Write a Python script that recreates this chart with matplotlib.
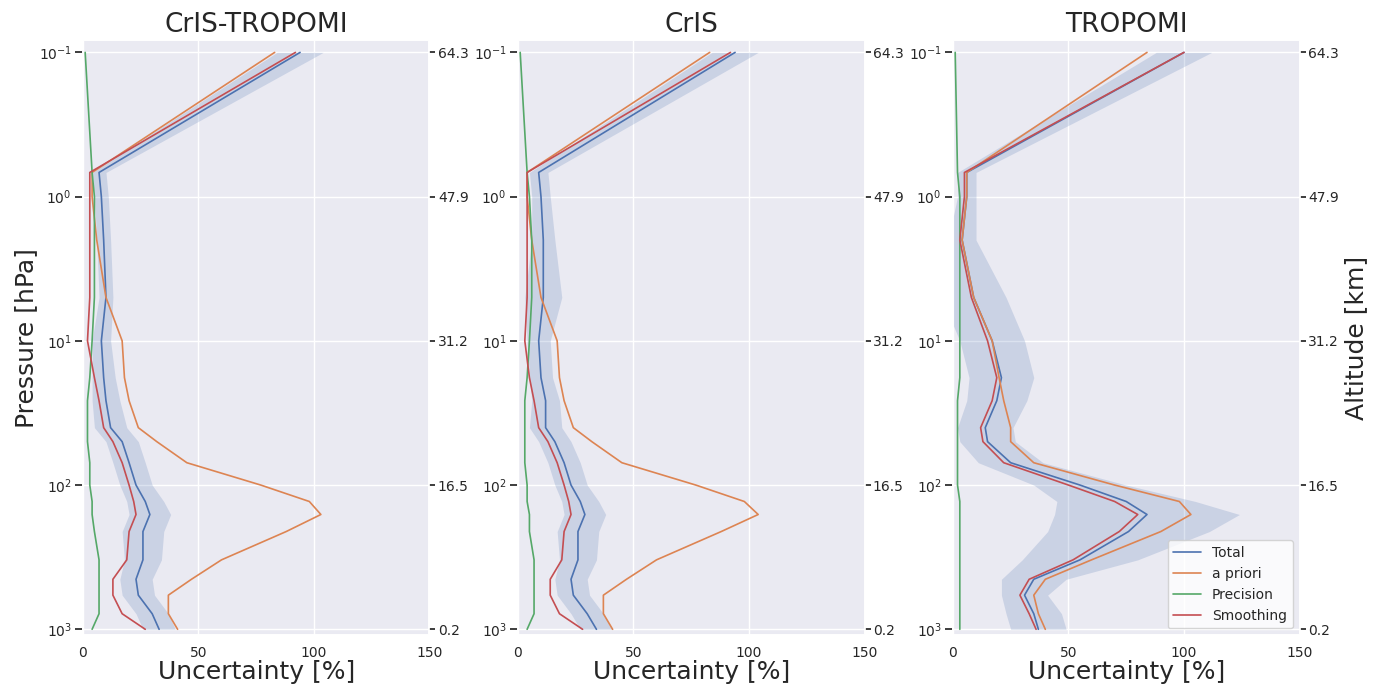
import numpy as np
import matplotlib
matplotlib.use("Agg")
import seaborn as sns
from matplotlib import pyplot as plt

sns.set_theme(style="darkgrid")

# pressure levels [hPa]
p = [0.1, 0.68, 1, 2, 5, 10, 18, 26, 40, 50, 70, 100, 130, 160, 210, 330, 450, 580, 780, 1000]
alt_ticks = [0.1, 1, 10, 100, 1000]
alt_labels = ["64.3", "47.9", "31.2", "16.5", "0.2"]

titles = ["CrIS-TROPOMI", "CrIS", "TROPOMI"]

total = [
    [94, 7, 8, 9, 10, 8, 9, 10, 12, 17, 20, 23, 27, 29, 26, 26, 23, 24, 30, 33],
    [94, 9, 10, 11, 11, 9, 10, 12, 12, 16, 20, 23, 27, 29, 26, 26, 23, 24, 30, 34],
    [100, 6, 6, 4, 9, 17, 21, 19, 14, 15, 25, 55, 75, 84, 76, 55, 35, 31, 35, 37],
]
band = [
    [10, 3, 3, 3, 3, 4, 5, 6, 7, 7, 7, 7, 8, 9, 9, 8, 7, 7, 7, 7],
    [10, 4, 4, 5, 8, 5, 5, 6, 7, 7, 7, 7, 8, 9, 9, 8, 7, 7, 7, 7],
    [12, 4, 4, 6, 14, 14, 14, 13, 12, 12, 14, 20, 30, 40, 35, 25, 14, 10, 12, 12],
]
apriori = [
    [83, 4, 4, 6, 10, 17, 18, 20, 24, 32, 45, 77, 98, 103, 88, 60, 47, 37, 37, 41],
    [83, 4, 4, 6, 10, 17, 18, 20, 24, 32, 45, 77, 98, 104, 88, 60, 47, 37, 37, 41],
    [84, 6, 6, 4, 9, 17, 20, 22, 25, 25, 35, 70, 98, 103, 90, 60, 40, 35, 37, 40],
]
precision = [
    [1, 4, 5, 5, 5, 4, 3, 2, 2, 2, 3, 3, 4, 4, 5, 7, 7, 7, 7, 4],
    [1, 4, 5, 6, 6, 5, 4, 3, 3, 3, 3, 4, 4, 5, 5, 7, 7, 7, 7, 4],
    [1, 2, 3, 3, 3, 3, 3, 2, 2, 2, 2, 2, 3, 3, 3, 3, 3, 3, 3, 3],
]
smoothing = [
    [92, 3, 3, 3, 3, 2, 5, 7, 9, 13, 17, 20, 22, 23, 20, 19, 13, 13, 17, 27],
    [92, 4, 4, 4, 4, 3, 5, 7, 9, 13, 17, 20, 22, 23, 20, 19, 14, 14, 18, 28],
    [100, 5, 5, 3, 8, 15, 19, 17, 12, 13, 22, 50, 70, 80, 72, 52, 33, 29, 33, 36],
]

fig = plt.figure(figsize=(13.81, 6.89), dpi=100)
lefts = [0.060, 0.375, 0.690]
for i in range(3):
    ax = fig.add_axes([lefts[i], 0.078, 0.251, 0.864])
    t = np.array(total[i])
    b = np.array(band[i])
    ax.fill_betweenx(p, t - b, t + b, color="C0", alpha=0.2, lw=0)
    ax.plot(total[i], p, color="C0", lw=1.2, label="Total")
    ax.plot(apriori[i], p, color="C1", lw=1.2, label="a priori")
    ax.plot(precision[i], p, color="C2", lw=1.2, label="Precision")
    ax.plot(smoothing[i], p, color="C3", lw=1.2, label="Smoothing")
    ax.set_yscale("log")
    ax.set_ylim(1100, 0.082)
    ax.set_xlim(0, 150)
    ax.set_xticks([0, 50, 100, 150])
    ax.minorticks_off()
    ax.set_title(titles[i], fontsize=19)
    ax.set_xlabel("Uncertainty [%]", fontsize=18, labelpad=0)
    ax.tick_params(labelsize=10, pad=2)
    if i == 0:
        ax.set_ylabel("Pressure [hPa]", fontsize=18, labelpad=0)
    ax2 = ax.twinx()
    ax2.set_yscale("log")
    ax2.set_ylim(1100, 0.082)
    ax2.set_yticks(alt_ticks)
    ax2.set_yticklabels(alt_labels)
    ax2.minorticks_off()
    ax2.grid(False)
    ax2.tick_params(labelsize=10, length=4, right=True, pad=2)
    if i == 2:
        ax2.set_ylabel("Altitude [km]", fontsize=18)
        ax.legend(loc="lower right", fontsize=10, facecolor="white", framealpha=0.8)

fig.savefig("out.png")
